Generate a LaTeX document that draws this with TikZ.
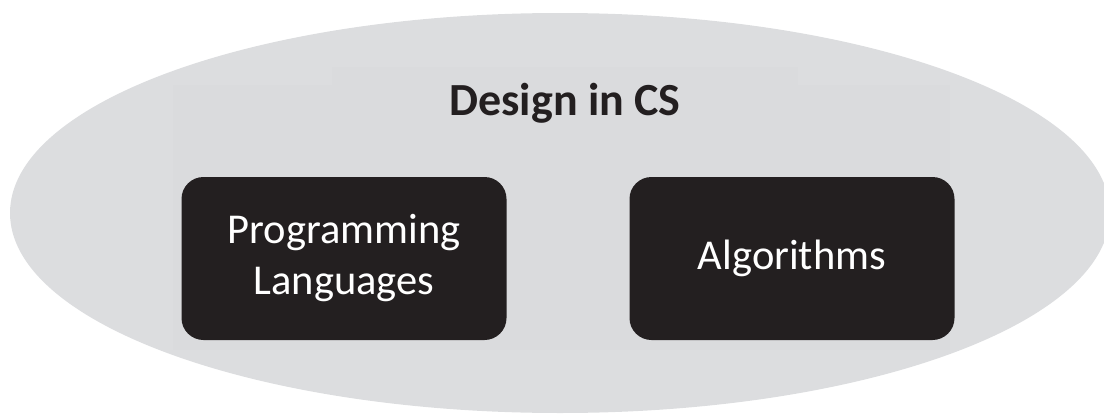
\documentclass[tikz,border=0pt]{standalone}
\usepackage{fontspec}
\setmainfont{Carlito}
\definecolor{cloud}{HTML}{DCDDDF}
\definecolor{panel}{HTML}{DADBDD}
\definecolor{ink}{HTML}{231F20}
\tikzset{
  topic/.style={fill=ink, draw=none, rounded corners=22pt, minimum width=325pt,
    minimum height=163pt, text=white, align=center,
    font=\fontsize{42.5}{51}\selectfont},
  heading/.style={text=ink, font=\fontsize{46}{52}\selectfont\bfseries, anchor=base, inner sep=0pt}
}
\begin{document}
\begin{tikzpicture}[x=1pt,y=-1pt]
  \useasboundingbox (0,0) rectangle (1104,415);
  % background cloud
  \begin{scope}
    \clip (0,0) rectangle (1104,415);
    \fill[cloud] (560,213) ellipse [x radius=550, y radius=200];
  \end{scope}
  % faint panels behind the content
  \fill[panel] (332,67) rectangle (798,85);
  \fill[panel] (173,85) rectangle (950,350);
  % title and topic boxes
  \node[heading] (title) at (565,115) {Design in CS};
  \node[topic] (prog) at (344,258.5) {Programming\\Languages};
  \node[topic] (algo) at (792,258.5) {\raisebox{-3pt}{Algorithms}};
\end{tikzpicture}
\end{document}
